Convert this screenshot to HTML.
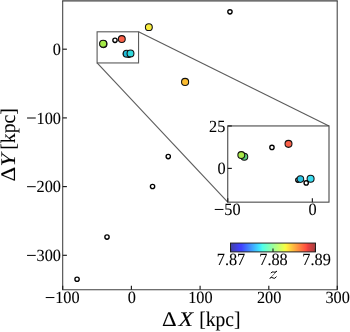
<!DOCTYPE html>
<html><head><meta charset="utf-8">
<style>
html,body{margin:0;padding:0;background:#fff;}
svg{display:block;will-change:transform;}
text{font-family:"Liberation Serif",serif;fill:#000;stroke:#000;stroke-width:0.08px;text-rendering:geometricPrecision;}
</style></head>
<body>
<svg width="350" height="332" viewBox="0 0 350 332">
<defs>
<linearGradient id="jet" x1="0" x2="1" y1="0" y2="0">
<stop offset="0" stop-color="#40409f"/>
<stop offset="0.055" stop-color="#4040cf"/>
<stop offset="0.11" stop-color="#4040ff"/>
<stop offset="0.125" stop-color="#4040ff"/>
<stop offset="0.2" stop-color="#4079ff"/>
<stop offset="0.27" stop-color="#40afff"/>
<stop offset="0.34" stop-color="#40e4ff"/>
<stop offset="0.375" stop-color="#4fffe9"/>
<stop offset="0.44" stop-color="#77ffc1"/>
<stop offset="0.5" stop-color="#9cff9c"/>
<stop offset="0.57" stop-color="#c7ff71"/>
<stop offset="0.64" stop-color="#f3ff46"/>
<stop offset="0.66" stop-color="#fff140"/>
<stop offset="0.72" stop-color="#ffc640"/>
<stop offset="0.78" stop-color="#ff9c40"/>
<stop offset="0.84" stop-color="#ff7140"/>
<stop offset="0.89" stop-color="#ff4e40"/>
<stop offset="0.91" stop-color="#ee4040"/>
<stop offset="0.95" stop-color="#cb4040"/>
<stop offset="1" stop-color="#9f4040"/>
</linearGradient>
</defs>
<rect width="350" height="332" fill="#fff"/>
<polyline points="62.7,0.8 62.7,289.65 337.2,289.65 337.2,0.8" fill="none" stroke="#404040" stroke-width="1.05"/>
<line x1="62.2" y1="0.9" x2="337.7" y2="0.9" stroke="#404040" stroke-width="1.25"/>
<g stroke="#1a1a1a" stroke-width="1.15">
<line x1="62.7" y1="49.2" x2="66.9" y2="49.2"/>
<line x1="62.7" y1="117.9" x2="66.9" y2="117.9"/>
<line x1="62.7" y1="186.6" x2="66.9" y2="186.6"/>
<line x1="62.7" y1="255.3" x2="66.9" y2="255.3"/>
<line x1="62.7" y1="289.65" x2="62.7" y2="285.75"/>
<line x1="131.4" y1="289.65" x2="131.4" y2="285.75"/>
<line x1="200.1" y1="289.65" x2="200.1" y2="285.75"/>
<line x1="268.8" y1="289.65" x2="268.8" y2="285.75"/>
<line x1="337.3" y1="289.65" x2="337.3" y2="285.75"/>
</g>
<text transform="translate(52.85,55.05) scale(1.0,1.05)" font-size="16.3">0</text>
<text transform="translate(36.55,123.75) scale(1.0,1.05)" font-size="16.3">100</text><line x1="27.05" y1="118.00" x2="35.75" y2="118.00" stroke="#000" stroke-width="1.0"/>
<text transform="translate(36.55,192.45) scale(1.0,1.05)" font-size="16.3">200</text><line x1="27.05" y1="186.70" x2="35.75" y2="186.70" stroke="#000" stroke-width="1.0"/>
<text transform="translate(36.55,261.15) scale(1.0,1.05)" font-size="16.3">300</text><line x1="27.05" y1="255.40" x2="35.75" y2="255.40" stroke="#000" stroke-width="1.0"/>
<text transform="translate(55.22,303.30) scale(1.0,1.05)" font-size="16.3">100</text><line x1="45.72" y1="297.55" x2="54.42" y2="297.55" stroke="#000" stroke-width="1.0"/>
<text transform="translate(127.67,303.30) scale(1.0,1.05)" font-size="16.3">0</text>
<text transform="translate(188.22,303.30) scale(1.0,1.05)" font-size="16.3">100</text>
<text transform="translate(256.93,303.30) scale(1.0,1.05)" font-size="16.3">200</text>
<text transform="translate(325.43,303.30) scale(1.0,1.05)" font-size="16.3">300</text>
<g font-size="20.8">
<text transform="translate(162.0,326) scale(1.1,1)">Δ</text>
<text transform="translate(178.6,326) scale(1.15,1)" font-style="italic">X</text>
<text transform="translate(199.2,326.2) scale(0.94,1)">[kpc]</text>
</g>
<g font-size="20.8" transform="translate(15.1,0) rotate(-90)">
<text transform="translate(-181.4,0) scale(1.1,1)">Δ</text>
<text transform="translate(-166.6,0) scale(1.12,1)" font-style="italic">Y</text>
<text transform="translate(-149.8,0) scale(0.95,1)">[kpc]</text>
</g>
<g fill="none" stroke="#5c5c5c" stroke-width="1.12">
<rect x="97.1" y="31.8" width="41.45" height="31.15"/>
<line x1="138.55" y1="31.8" x2="329.0" y2="125.95"/>
<line x1="97.1" y1="62.95" x2="227.75" y2="202.15"/>
</g>
<rect x="227.75" y="125.95" width="101.25" height="76.20" fill="#fff" stroke="#404040" stroke-width="1.05"/>
<g stroke="#1a1a1a" stroke-width="1.15">
<line x1="227.75" y1="125.95" x2="231.85" y2="125.95"/>
<line x1="227.75" y1="168.4" x2="231.85" y2="168.4"/>
<line x1="227.75" y1="202.15" x2="227.75" y2="198.35"/>
<line x1="312.36" y1="202.15" x2="312.36" y2="198.35"/>
</g>
<text transform="translate(209.00,131.55) scale(1.0,1.05)" font-size="16.3">25</text>
<text transform="translate(217.45,174.20) scale(1.0,1.05)" font-size="16.3">0</text>
<text transform="translate(224.25,215.20) scale(1.0,1.05)" font-size="16.3">50</text><line x1="214.75" y1="209.45" x2="223.45" y2="209.45" stroke="#000" stroke-width="1.0"/>
<text transform="translate(308.43,215.20) scale(1.0,1.05)" font-size="16.3">0</text>
<g stroke="#000" stroke-width="1.35">
<circle cx="229.95" cy="11.85" r="2.15" fill="#fff"/>
<circle cx="168.25" cy="156.55" r="2.15" fill="#fff"/>
<circle cx="152.55" cy="186.5" r="2.15" fill="#fff"/>
<circle cx="107.0" cy="237.05" r="2.15" fill="#fff"/>
<circle cx="77.05" cy="279.25" r="2.15" fill="#fff"/>
<circle cx="115.0" cy="40.35" r="2.15" fill="#fff"/>
<circle cx="125.5" cy="53.9" r="2.15" fill="#fff"/>
<circle cx="128.9" cy="55.1" r="2.15" fill="#fff"/>
</g>
<g stroke="#111" stroke-width="1.05">
<circle cx="103.5" cy="44.1" r="3.5" fill="#222"/>
<circle cx="103.15" cy="43.7" r="3.55" fill="#a4ea48"/>
<circle cx="121.8" cy="39.05" r="3.45" fill="#fb6048"/>
<circle cx="126.65" cy="53.65" r="3.45" fill="#20bcd8"/>
<circle cx="130.5" cy="53.4" r="3.45" fill="#30d8dc"/>
<circle cx="148.85" cy="27.15" r="3.45" fill="#f8ec3c"/>
<circle cx="185.1" cy="81.9" r="3.55" fill="#fbbc30"/>
</g>
<g stroke="#000" stroke-width="1.35">
<circle cx="271.95" cy="147.4" r="2.15" fill="#fff"/>
<circle cx="297.9" cy="180.05" r="2.15" fill="#fff"/>
</g>
<g stroke="#111" stroke-width="1.05">
<circle cx="244.3" cy="156.7" r="3.45" fill="#5ccc7c"/>
<circle cx="241.3" cy="155.05" r="3.45" fill="#a8e848"/>
<circle cx="288.5" cy="143.85" r="3.5" fill="#fb6048"/>
<circle cx="300.4" cy="179.1" r="3.3" fill="#2cc4e4"/>
<circle cx="310.6" cy="178.7" r="3.5" fill="#3cdcf0"/>
</g>
<circle cx="306.2" cy="182.9" r="2.15" fill="#fff" stroke="#000" stroke-width="1.35"/>
<rect x="230.5" y="243.05" width="85.0" height="8.85" fill="url(#jet)" stroke="#1a1a1a" stroke-width="0.95"/>
<g stroke="#1a1a1a" stroke-width="1.1">
<line x1="273" y1="251.9" x2="273" y2="248.4"/><line x1="230.6" y1="251.9" x2="230.6" y2="248.4"/><line x1="315.4" y1="251.9" x2="315.4" y2="248.4"/>
</g>

<text transform="translate(216.74,264.95) scale(1.0,1.05)" font-size="16.3">7.87</text>
<text transform="translate(259.24,264.95) scale(1.0,1.05)" font-size="16.3">7.88</text>
<text transform="translate(302.34,264.95) scale(1.0,1.05)" font-size="16.3">7.89</text>
<g fill="none" stroke="#000" stroke-linecap="round" stroke-linejoin="round" transform="translate(0.1,0.4)">
<path d="M271.0,272.5 Q271.9,270.9 273.2,271.6 Q274.8,272.5 276.5,271.0" stroke-width="1.0"/>
<path d="M276.6,270.9 L269.5,278.3" stroke-width="0.55"/>
<path d="M270.4,277.4 Q271.8,276.5 273.0,277.6 Q274.6,278.9 276.2,276.5" stroke-width="1.0"/>
</g>
</svg>
</body></html>
